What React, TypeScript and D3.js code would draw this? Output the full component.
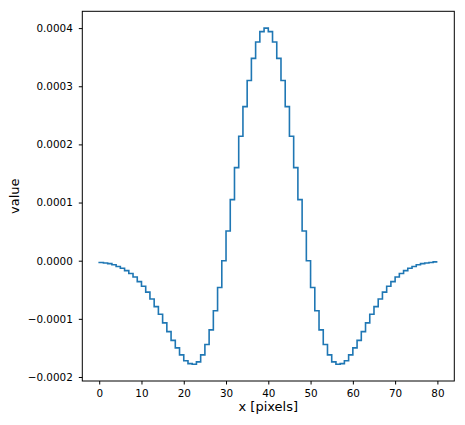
// @ts-nocheck
import { useEffect, useRef } from "react";
import * as d3 from "d3";

// x positions (pixels) of the kernel slice
const xPixels = d3.range(0, 81);

// values, in units of 1e-4
const valuesE4 = [
  -0.02, -0.03, -0.04, -0.05, -0.07, -0.1, -0.13, -0.17, -0.22, -0.28,
  -0.36, -0.44, -0.54, -0.66, -0.79, -0.92, -1.07, -1.22, -1.37, -1.5,
  -1.62, -1.72, -1.77, -1.78, -1.74, -1.62, -1.44, -1.19, -0.86, -0.46,
  0.0, 0.51, 1.05, 1.6, 2.14, 2.65, 3.1, 3.48, 3.76, 3.94,
  4.0,
  3.94, 3.76, 3.48, 3.1, 2.65, 2.14, 1.6, 1.05, 0.51, 0.0,
  -0.46, -0.86, -1.19, -1.44, -1.62, -1.74, -1.78, -1.77, -1.72, -1.62,
  -1.5, -1.37, -1.22, -1.07, -0.92, -0.79, -0.66, -0.54, -0.44, -0.36,
  -0.28, -0.22, -0.17, -0.13, -0.1, -0.07, -0.05, -0.04, -0.03, -0.02,
];

const xTicks = [0, 10, 20, 30, 40, 50, 60, 70, 80];
const yTicks = [-0.0002, -0.0001, 0, 0.0001, 0.0002, 0.0003, 0.0004];

const W = 465;
const H = 425;
const plot = { left: 82.3, top: 11.3, right: 454.3, bottom: 381 };
const FONT = "DejaVu Sans, sans-serif";

const App = () => {
  const xAxisRef = useRef(null);
  const yAxisRef = useRef(null);

  const data = xPixels.map((x, i) => ({ x, v: valuesE4[i] * 1e-4 }));

  const xMin = d3.min(xPixels), xMax = d3.max(xPixels);
  const xPad = (xMax - xMin) * 0.05;
  const x = d3.scaleLinear().domain([xMin - xPad, xMax + xPad]).range([plot.left, plot.right]);

  const [vMin, vMax] = d3.extent(data, (d) => d.v);
  const vPad = (vMax - vMin) * 0.05;
  const y = d3.scaleLinear().domain([vMin - vPad, vMax + vPad]).range([plot.bottom, plot.top]);

  const line = d3
    .line()
    .x((d) => x(d.x))
    .y((d) => y(d.v))
    .curve(d3.curveStepBefore);

  useEffect(() => {
    const fmt = (v) => d3.format(".4f")(v).replace("-", "\u2212");

    const gx = d3.select(xAxisRef.current);
    gx.call(d3.axisBottom(x).tickValues(xTicks).tickSize(3.5).tickPadding(5.5).tickSizeOuter(0));
    gx.select(".domain").remove();
    gx.selectAll("text").attr("font-family", FONT).attr("font-size", 10.4).attr("fill", "#000");
    gx.selectAll("line").attr("stroke", "#000").attr("stroke-width", 1);

    const gy = d3.select(yAxisRef.current);
    gy.call(d3.axisLeft(y).tickValues(yTicks).tickFormat(fmt).tickSize(3.5).tickPadding(6).tickSizeOuter(0));
    gy.select(".domain").remove();
    gy.selectAll("text").attr("font-family", FONT).attr("font-size", 10.4).attr("fill", "#000");
    gy.selectAll("line").attr("stroke", "#000").attr("stroke-width", 1);
  }, []);

  return (
    <svg
      width={W}
      height={H}
      style={{ position: "absolute", left: 0, top: 0, background: "#fff" }}
    >
      <rect x={0} y={0} width={W} height={H} fill="#fff" />
      <path d={line(data)} fill="none" stroke="#1f77b4" strokeWidth={1.6} strokeLinejoin="miter" />
      <rect
        x={plot.left}
        y={plot.top}
        width={plot.right - plot.left}
        height={plot.bottom - plot.top}
        fill="none"
        stroke="#000"
        strokeWidth={1}
      />
      <g ref={xAxisRef} transform={`translate(0,${plot.bottom})`} />
      <g ref={yAxisRef} transform={`translate(${plot.left},0)`} />
      <text
        x={(plot.left + plot.right) / 2}
        y={411}
        textAnchor="middle"
        fontFamily={FONT}
        fontSize={13}
        fill="#000"
      >
        x [pixels]
      </text>
      <text
        transform={`translate(18.5,${(plot.top + plot.bottom) / 2}) rotate(-90)`}
        textAnchor="middle"
        fontFamily={FONT}
        fontSize={13}
        fill="#000"
      >
        value
      </text>
    </svg>
  );
};

export default App;
